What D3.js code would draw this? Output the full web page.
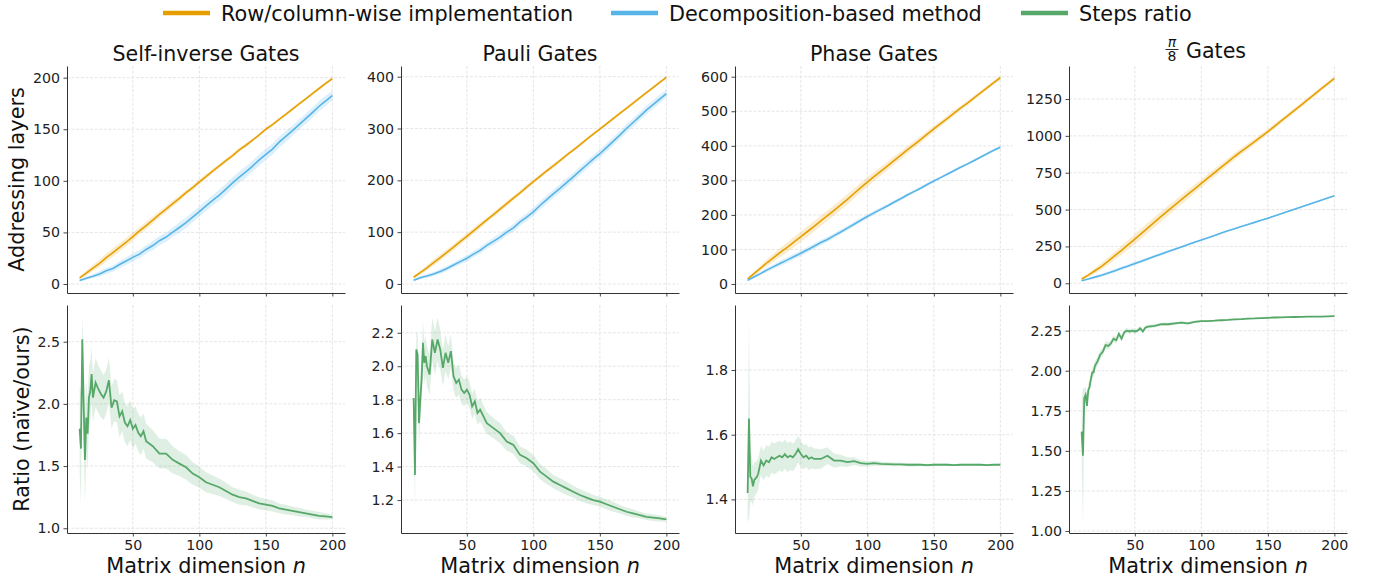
<!DOCTYPE html>
<html><head><meta charset="utf-8">
<script src="https://cdn.jsdelivr.net/npm/d3@7"></script>
<style>body{margin:0;background:#fff} svg{font-family:"DejaVu Sans",sans-serif}</style>
</head><body>
<svg id="c" width="1374" height="582"></svg>
<script>
// ---------- DATA ----------
const nTop = [10,15,20,25,30,35,40,45,50,55,60,65,70,75,80,85,90,95,100,105,110,115,120,125,130,135,140,145,150,155,160,165,170,175,180,185,190,195,200];
const nRatio = [10,11,12,13,14,15,16,17,18,19,20,22,24,26,28,30,32,34,36,38,40,42,44,46,48,50,52,54,56,58,60,65,70,75,80,85,90,95,100,105,110,115,120,125,130,135,140,145,150,155,160,165,170,175,180,185,190,195,200];

const titles = ["Self-inverse Gates", "Pauli Gates", "Phase Gates", "PI8"];
const legendLabels = ["Row/column-wise implementation", "Decomposition-based method", "Steps ratio"];

// Self-inverse
const siRow   = [6,10.5,15.5,20,25.5,30.5,35.5,40.5,46,51.5,56.5,62,67.5,72.5,78,83,88.5,93.5,99,104,109.5,114.5,119.5,124.5,130,134.5,139.5,144.5,150,154.5,159.5,164.5,169.5,174.5,179.5,184.5,189.5,194.5,199];
const siRowSd = [1.5,2.5,3,3.5,4,4,4,4,4,3.5,3.5,3.5,3,3,3,3,2.5,2.5,2.5,2.5,2,2,2,2,2,2,1.5,1.5,1.5,1.5,1.5,1.5,1.5,1.5,1.5,1.5,1.5,1.5,1.5];
const siDec   = [3.5,5.5,7.5,9.8,12.8,15,18.9,22.3,25.8,29,33.5,37.3,42,45.5,50.3,54.8,59.4,64.8,70.2,75.8,81.1,86.2,92,98,103.6,108.6,114.3,120.3,125.7,130.8,137.5,143,148.7,154.4,160.3,166.2,172.3,177.6,182.6];
const siDecSd = [1,1.5,2,2.5,3,3,3.5,3.5,4,4,4,4.5,4.5,4.5,4.5,5,5,5,5,5,5,5.5,5.5,5.5,5.5,5.5,5.5,5.5,5.5,5.5,5.5,5.5,5,5,5,5,5,5,4.5];
const siRatio = [1.80,1.64,2.52,2.00,1.55,1.89,1.76,2.05,2.10,2.24,2.05,2.17,2.12,2.08,2.05,2.10,2.19,1.97,2.03,2.02,1.90,1.94,1.85,1.82,1.87,1.80,1.83,1.77,1.74,1.78,1.70,1.66,1.60,1.60,1.55,1.52,1.49,1.44,1.41,1.37,1.35,1.33,1.30,1.27,1.25,1.24,1.22,1.20,1.19,1.18,1.16,1.15,1.14,1.13,1.12,1.11,1.10,1.095,1.09];
const siRatioSd = [0.35,0.45,0.19,0.35,0.35,0.30,0.28,0.25,0.24,0.22,0.20,0.2,0.19,0.19,0.18,0.18,0.18,0.17,0.17,0.17,0.17,0.16,0.16,0.16,0.16,0.16,0.15,0.15,0.15,0.14,0.14,0.13,0.12,0.12,0.11,0.1,0.1,0.09,0.085,0.08,0.075,0.07,0.065,0.06,0.06,0.055,0.05,0.05,0.045,0.045,0.04,0.04,0.035,0.035,0.03,0.03,0.03,0.025,0.02];

// Pauli
const paRow   = [13,22,31,41,51,61,71,81.5,92,102.5,113,123.5,134,144.5,155,165.5,176,187,197.5,207.5,218,228,238,248.5,258.5,268.5,279,289,299,309,319,329,339,349,359,369,379,389,398.5];
const paRowSd = [3,4,5,6,6,6,6,6,6,5.5,5.5,5,5,5,5,4.5,4.5,4.5,4,4,4,4,3.5,3.5,3.5,3.5,3,3,3,3,3,3,3,3,3,3,3,3,3];
const paDec   = [7.2,12.2,15.5,19.3,24.3,29.8,36.6,43.1,49.5,57.6,64.9,74.4,82.2,90.3,100,108.2,119.7,129,139.1,151.5,162.7,174,184.5,195.7,206.8,218.3,229.6,240.8,251.3,263,275,287.3,300,311.6,323.4,335.5,346.1,356.9,367.3];
const paDecSd = [2,3,3.5,4,4.5,5,5,5.5,6,6,6.5,6.5,7,7,7,7.5,7.5,7.5,8,8,8,8,8,8,8,8,8,8,8,8,8,8,8,8,8,8,8,8,7.5];
const paRatio = [1.81,1.35,2.10,2.07,1.66,1.80,1.92,2.14,2.02,2.06,2.00,1.95,2.16,2.08,2.16,2.10,1.99,2.08,2.02,2.09,1.94,1.90,1.92,1.86,1.84,1.86,1.83,1.76,1.79,1.72,1.74,1.66,1.63,1.60,1.55,1.53,1.47,1.45,1.42,1.37,1.34,1.31,1.29,1.27,1.25,1.23,1.215,1.20,1.19,1.175,1.16,1.145,1.13,1.12,1.11,1.10,1.095,1.09,1.085];
const paRatioSd = [0.10,0.22,0.11,0.12,0.15,0.14,0.13,0.13,0.13,0.12,0.12,0.12,0.13,0.13,0.13,0.12,0.11,0.11,0.10,0.10,0.09,0.09,0.09,0.085,0.08,0.08,0.08,0.075,0.075,0.07,0.07,0.065,0.06,0.06,0.055,0.055,0.05,0.05,0.05,0.045,0.045,0.04,0.04,0.04,0.035,0.035,0.035,0.03,0.03,0.03,0.03,0.025,0.025,0.025,0.02,0.02,0.02,0.018,0.015];

// Phase
const phRow   = [15,31,47,63,78,93,107,122,137,152,167,183,198,213,229,245,262,279,295,311,326,341,357,372,388,403,418,434,449,464,479,494,509,523,538,553,568,583,597];
const phRowSd = [4,6,8,10,12,13,14,15,15,15,15,15,15,15,15,15,14,14,14,13,13,12,12,11,11,10,10,9,9,8,8,8,7,7,7,6,6,6,6];
const phDec   = [10.6,21.2,30.9,41.6,51.1,60.8,69.9,79.5,89,99.3,109.5,120,129,140,150.7,161.7,173,184.5,195.4,205.8,216,226,236.7,246.8,257.5,267.4,277.4,288,298,308,317.8,327.8,337.8,347,357,367,377,387,396];
const phDecSd = [3,4,5,6,7,8,8,8,8,8,8,7.5,7.5,7,7,7,6.5,6.5,6,6,6,5.5,5.5,5,5,5,4.5,4.5,4.5,4,4,4,4,4,4,3.5,3.5,3.5,3.5];
const phRatio = [1.42,1.65,1.47,1.465,1.44,1.46,1.465,1.47,1.48,1.50,1.52,1.505,1.52,1.515,1.53,1.525,1.53,1.535,1.53,1.54,1.53,1.535,1.53,1.54,1.555,1.54,1.53,1.535,1.525,1.53,1.525,1.525,1.535,1.52,1.52,1.515,1.518,1.512,1.51,1.512,1.51,1.509,1.508,1.508,1.507,1.507,1.507,1.506,1.507,1.507,1.507,1.506,1.507,1.507,1.507,1.507,1.506,1.507,1.507];
const phRatioSd = [0.09,0.31,0.08,0.07,0.06,0.055,0.05,0.05,0.048,0.046,0.045,0.046,0.047,0.048,0.048,0.048,0.047,0.046,0.046,0.045,0.045,0.044,0.043,0.042,0.042,0.04,0.038,0.036,0.035,0.034,0.032,0.03,0.026,0.022,0.018,0.015,0.012,0.01,0.009,0.008,0.007,0.006,0.006,0.005,0.005,0.005,0.004,0.004,0.004,0.004,0.004,0.003,0.003,0.003,0.003,0.003,0.003,0.003,0.003];

// pi/8
const p8Row   = [29,55,85,115,150,188,224,262,300,339,378,417,455,493,530,567,604,641,678,715,751,788,824,860,894,927,961,995,1029,1065,1101,1137,1173,1209,1245,1282,1318,1354,1390];
const p8RowSd = [8,12,18,22,26,28,30,32,34,35,35,35,34,33,32,31,30,29,28,27,26,25,24,23,22,21,20,19,18,18,17,17,16,16,15,15,15,14,14];
const p8Dec   = [17.9,29.3,41.9,54.5,69.6,85.6,101.8,116.7,133.6,150.3,166.2,182.9,198.7,215.3,230.9,246.5,263.2,278.1,293.5,309.5,324.8,340.4,355.6,370.7,385,398.7,413.2,427.4,441.6,456.8,471.9,487.1,502.4,517.6,532.7,548.3,563.7,578.9,594];
const p8DecSd = [4,6,8,10,11,12,12,12,12,11,11,10,10,9,9,8,8,7,7,6,6,6,5,5,5,5,5,5,5,5,5,5,5,5,5,5,5,5,5];
const p8Ratio = [1.62,1.47,1.83,1.85,1.78,1.88,1.90,1.95,1.99,1.99,2.03,2.06,2.10,2.12,2.16,2.155,2.17,2.20,2.19,2.23,2.20,2.24,2.25,2.245,2.25,2.245,2.25,2.265,2.245,2.27,2.275,2.28,2.29,2.29,2.295,2.30,2.295,2.305,2.31,2.31,2.312,2.315,2.317,2.32,2.322,2.325,2.326,2.328,2.33,2.332,2.333,2.334,2.335,2.336,2.337,2.338,2.338,2.339,2.34];
const p8RatioSd = [0.20,0.42,0.06,0.05,0.045,0.04,0.04,0.035,0.035,0.03,0.03,0.03,0.028,0.026,0.025,0.024,0.022,0.021,0.02,0.02,0.019,0.018,0.017,0.016,0.015,0.015,0.014,0.013,0.013,0.012,0.012,0.011,0.01,0.009,0.009,0.008,0.008,0.007,0.007,0.006,0.006,0.006,0.005,0.005,0.005,0.005,0.004,0.004,0.004,0.004,0.004,0.004,0.003,0.003,0.003,0.003,0.003,0.003,0.003];

const xTicks = [50,100,150,200];
const topTicks = [[0,50,100,150,200],[0,100,200,300,400],[0,100,200,300,400,500,600],[0,250,500,750,1000,1250]];
const botTicks = [[1.0,1.5,2.0,2.5],[1.2,1.4,1.6,1.8,2.0,2.2],[1.4,1.6,1.8],[1.00,1.25,1.50,1.75,2.00,2.25]];
const botFmt = [".1f",".1f",".1f",".2f"];
const topDom = [[-8.7,211.3],[-17.4,420.6],[-26,631],[-65.8,1473.7]];
const botDom = [[0.962,2.795],[1.003,2.366],[1.296,2.001],[0.9875,2.410]];

const rowSeries = [siRow, paRow, phRow, p8Row];
const rowSd = [siRowSd, paRowSd, phRowSd, p8RowSd];
const decSeries = [siDec, paDec, phDec, p8Dec];
const decSd = [siDecSd, paDecSd, phDecSd, p8DecSd];
const ratioSeries = [siRatio, paRatio, phRatio, p8Ratio];
const ratioSd = [siRatioSd, paRatioSd, phRatioSd, p8RatioSd];

// ---------- STYLE / LAYOUT ----------
const C_OR = "#E69F00", C_BL = "#56B4E9", C_GR = "#55A868";
const colX = [67, 401, 735, 1069], W = 278;
const rowY = [66, 305], H = [227, 228];
const xDom = [0.5, 209.5];

const svg = d3.select("#c");

function drawPanel(c, r) {
  const g = svg.append("g").attr("transform", `translate(${colX[c]},${rowY[r]})`);
  const h = H[r];
  const x = d3.scaleLinear().domain(xDom).range([0, W]);
  const y = d3.scaleLinear().domain(r === 0 ? topDom[c] : botDom[c]).range([h, 0]);
  const yt = r === 0 ? topTicks[c] : botTicks[c];

  // grid
  const grid = g.append("g").attr("stroke", "#cccccc").attr("stroke-width", 0.8)
    .attr("stroke-dasharray", "3,1.6").attr("opacity", 0.6);
  grid.selectAll(".gx").data(xTicks).join("line")
    .attr("x1", d => x(d)).attr("x2", d => x(d)).attr("y1", 0).attr("y2", h);
  grid.selectAll(".gy").data(yt).join("line")
    .attr("x1", 0).attr("x2", W).attr("y1", d => y(d)).attr("y2", d => y(d));

  const band = (xs, m, s) => d3.area().x((d, i) => x(xs[i])).y0((d, i) => y(m[i] - s[i])).y1((d, i) => y(m[i] + s[i]))(m);
  const line = (xs, m) => d3.line().x((d, i) => x(xs[i])).y(d => y(d))(m);

  if (r === 0) {
    g.append("path").attr("d", band(nTop, rowSeries[c], rowSd[c])).attr("fill", C_OR).attr("opacity", 0.2);
    g.append("path").attr("d", band(nTop, decSeries[c], decSd[c])).attr("fill", C_BL).attr("opacity", 0.2);
    g.append("path").attr("d", line(nTop, rowSeries[c])).attr("fill", "none").attr("stroke", C_OR).attr("stroke-width", 1.6);
    g.append("path").attr("d", line(nTop, decSeries[c])).attr("fill", "none").attr("stroke", C_BL).attr("stroke-width", 1.6);
  } else {
    g.append("path").attr("d", band(nRatio, ratioSeries[c], ratioSd[c])).attr("fill", C_GR).attr("opacity", 0.18);
    g.append("path").attr("d", line(nRatio, ratioSeries[c])).attr("fill", "none").attr("stroke", C_GR).attr("stroke-width", 1.8);
  }

  // axes
  const ax = d3.axisBottom(x).tickValues(xTicks).tickSize(3.5).tickPadding(3.5).tickSizeOuter(0);
  if (r === 0) ax.tickFormat(() => ""); else ax.tickFormat(d3.format("d"));
  const gx = g.append("g").attr("transform", `translate(0,${h})`).call(ax);
  const ay = d3.axisLeft(y).tickValues(yt).tickSize(3.5).tickPadding(3.5).tickSizeOuter(0)
    .tickFormat(r === 0 ? d3.format("d") : d3.format(botFmt[c]));
  const gy = g.append("g").call(ay);
  [gx, gy].forEach(a => {
    a.select(".domain").attr("stroke", "#333").attr("stroke-width", 1);
    a.selectAll(".tick line").attr("stroke", "#333").attr("stroke-width", 0.9);
    a.selectAll(".tick text").attr("fill", "#222").style("font-size", "14.2px").style("font-family", "DejaVu Sans");
  });
}

for (let r = 0; r < 2; r++) for (let c = 0; c < 4; c++) drawPanel(c, r);

// titles
for (let c = 0; c < 3; c++) {
  svg.append("text").attr("x", colX[c] + W / 2).attr("y", 61).attr("text-anchor", "middle")
    .style("font-size", "20.6px").attr("fill", "#111").text(titles[c]);
}
{
  const t = svg.append("g");
  const fx = 1172;
  t.append("text").attr("x", fx).attr("y", 47).attr("text-anchor", "middle")
    .style("font-size", "14px").style("font-style", "italic").attr("fill", "#111").text("π");
  t.append("line").attr("x1", fx - 6.5).attr("x2", fx + 6.5).attr("y1", 49.5).attr("y2", 49.5)
    .attr("stroke", "#111").attr("stroke-width", 0.9);
  t.append("text").attr("x", fx).attr("y", 61).attr("text-anchor", "middle")
    .style("font-size", "14px").attr("fill", "#111").text("8");
  t.append("text").attr("x", 1186).attr("y", 58).style("font-size", "20.6px").attr("fill", "#111").text("Gates");
}

// axis labels
svg.append("text").attr("transform", "translate(24,179.5) rotate(-90)").attr("text-anchor", "middle")
  .style("font-size", "20.8px").attr("fill", "#111").text("Addressing layers");
svg.append("text").attr("transform", "translate(29,419) rotate(-90)").attr("text-anchor", "middle")
  .style("font-size", "20.8px").attr("fill", "#111").text("Ratio (naïve/ours)");
for (let c = 0; c < 4; c++) {
  const t = svg.append("text").attr("x", colX[c] + W / 2).attr("y", 573).attr("text-anchor", "middle")
    .style("font-size", "20.8px").attr("fill", "#111");
  t.append("tspan").text("Matrix dimension ");
  t.append("tspan").style("font-style", "italic").text("n");
}

// legend
const legX = [163, 611, 1021], legCol = [C_OR, C_BL, C_GR];
legendLabels.forEach((lab, i) => {
  svg.append("line").attr("x1", legX[i]).attr("x2", legX[i] + 47).attr("y1", 13).attr("y2", 13)
    .attr("stroke", legCol[i]).attr("stroke-width", 4.5);
  svg.append("text").attr("x", legX[i] + 58).attr("y", 20.5).style("font-size", "20.8px").attr("fill", "#111").text(lab);
});
</script>
</body></html>
